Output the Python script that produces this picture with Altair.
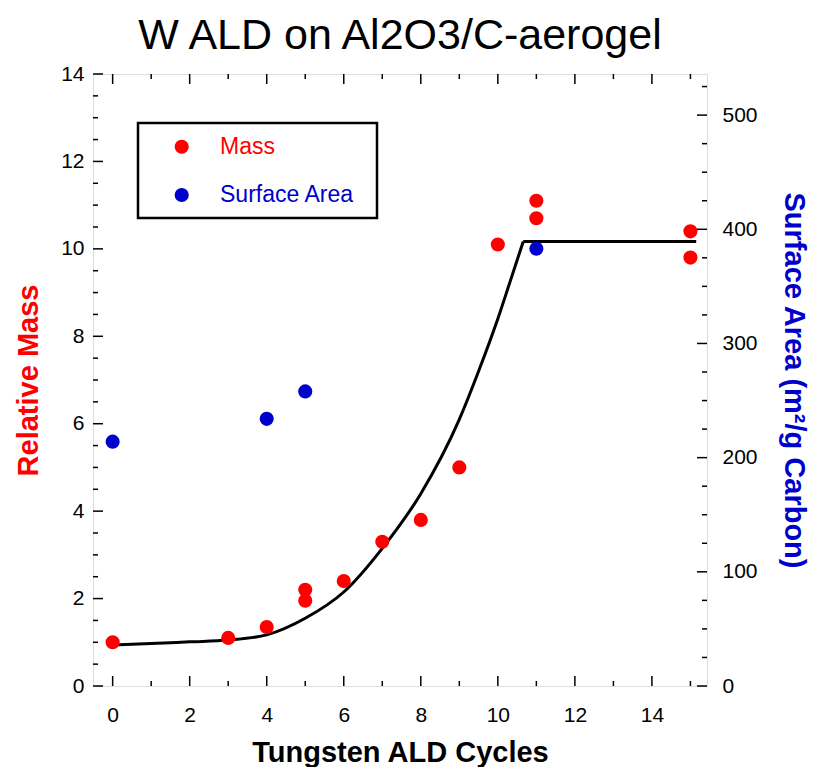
import altair as alt
import pandas as pd

# ---- data ----
mass_cycles = [0, 3, 4, 5, 5, 6, 7, 8, 9, 10, 11, 11, 15, 15]
mass_values = [1.0, 1.1, 1.35, 1.95, 2.2, 2.4, 3.3, 3.8, 5.0, 10.1, 10.7, 11.1, 10.4, 9.8]

area_cycles = [0, 4, 5, 11]
area_values = [214, 234, 258, 383]

# fitted curve (rising part) and its plateau
fit_cycles = [0, 1, 2, 3, 4, 5, 6, 7, 8, 9, 9.5, 10, 10.3, 10.66]
fit_values = [0.94, 0.97, 1.01, 1.05, 1.17, 1.55, 2.15, 3.15, 4.4, 6.1, 7.2, 8.4, 9.2, 10.17]
plateau_cycles = [10.66, 15.15]
plateau_values = [10.17, 10.17]

x_major = [0, 2, 4, 6, 8, 10, 12, 14]
x_minor = [1, 3, 5, 7, 9, 11, 13, 15]
mass_major = [0, 2, 4, 6, 8, 10, 12, 14]
mass_minor = [v / 2 for v in range(1, 28) if v % 4 != 0]
area_major = [0, 100, 200, 300, 400, 500]
area_minor = [v for v in range(25, 536, 25) if v % 100 != 0]

legend_labels = ["Mass", "Surface Area"]
legend_colors = ["#FF0000", "#0000CC"]

TITLE = "W ALD on Al2O3/C-aerogel"
X_TITLE = "Tungsten ALD Cycles"
Y_LEFT_TITLE = "Relative Mass"
Y_RIGHT_TITLE = "Surface Area (m\u00b2/g Carbon)"

# ---- layout ----
W, H = 614, 612
FONT = "Liberation Sans"
RED = "#FF0000"
BLUE = "#0000CC"
MAJ, MIN = 10, 5

XS = alt.Scale(domain=[-0.51, 15.43], nice=False, zero=False)
YM = alt.Scale(domain=[0, 14], nice=False, zero=True)
YA = alt.Scale(domain=[0, 536], nice=False, zero=True)

X_AXIS = alt.Axis(
    values=x_major, ticks=False, domain=False, grid=False,
    labelFont=FONT, labelFontSize=21, labelColor="black", labelPadding=18,
    title=X_TITLE, titleFont=FONT, titleFontSize=29, titleFontWeight="bold",
    titleColor="black", titleBaseline="alphabetic", titleY=75,
)

mass_df = pd.DataFrame({"cycles": mass_cycles, "mass": mass_values})
area_df = pd.DataFrame({"cycles": area_cycles, "area": area_values})
fit_df = pd.DataFrame({"cycles": fit_cycles, "mass": fit_values})
plateau_df = pd.DataFrame({"cycles": plateau_cycles, "mass": plateau_values})

fit_line = alt.Chart(fit_df).mark_line(
    color="black", strokeWidth=3, interpolate="monotone").encode(
    x=alt.X("cycles:Q", scale=XS, axis=X_AXIS),
    y=alt.Y("mass:Q", scale=YM, axis=None),
    order="cycles:Q",
)
plateau_line = alt.Chart(plateau_df).mark_line(color="black", strokeWidth=3).encode(
    x=alt.X("cycles:Q", scale=XS, axis=X_AXIS),
    y=alt.Y("mass:Q", scale=YM, axis=None),
    order="cycles:Q",
)

mass_pts = alt.Chart(mass_df).mark_circle(color=RED, size=200, opacity=1).encode(
    x=alt.X("cycles:Q", scale=XS, axis=X_AXIS),
    y=alt.Y("mass:Q", scale=YM, axis=alt.Axis(
        orient="left", values=mass_major, ticks=False, domain=False, grid=False,
        labelFont=FONT, labelFontSize=21, labelColor="black", labelPadding=9,
        title=Y_LEFT_TITLE, titleFont=FONT, titleFontSize=29, titleFontWeight="bold",
        titleColor=RED, titleBaseline="middle", titleX=-65,
    )),
)

area_pts = alt.Chart(area_df).mark_circle(color=BLUE, size=200, opacity=1).encode(
    x=alt.X("cycles:Q", scale=XS, axis=X_AXIS),
    y=alt.Y("area:Q", scale=YA, axis=alt.Axis(
        orient="right", values=area_major, ticks=False, domain=False, grid=False,
        labelFont=FONT, labelFontSize=21, labelColor="black", labelPadding=15,
        title=Y_RIGHT_TITLE, titleFont=FONT, titleFontSize=29, titleFontWeight="bold",
        titleColor=BLUE, titleBaseline="middle", titleX=86,
    )),
)


def xticks(vals, length, top):
    df = pd.DataFrame({"v": vals})
    if top:
        ys = dict(y=alt.value(0), y2=alt.value(length))
    else:
        ys = dict(y=alt.value(H), y2=alt.value(H - length))
    return alt.Chart(df).mark_rule(color="black", strokeWidth=1.5).encode(
        x=alt.X("v:Q", scale=XS, axis=X_AXIS), **ys)


def yticks(vals, length, scale, right):
    df = pd.DataFrame({"v": vals})
    if right:
        xs = dict(x=alt.value(W), x2=alt.value(W - length))
    else:
        xs = dict(x=alt.value(0), x2=alt.value(length))
    return alt.Chart(df).mark_rule(color="black", strokeWidth=1.5).encode(
        y=alt.Y("v:Q", scale=scale, axis=None), **xs)


tick_layers = [
    xticks(x_major, MAJ, False), xticks(x_minor, MIN, False),
    xticks(x_major, MAJ, True), xticks(x_minor, MIN, True),
    yticks(mass_major, MAJ, YM, False), yticks(mass_minor, MIN, YM, False),
    yticks(area_major, MAJ, YA, True), yticks(area_minor, MIN, YA, True),
]

# ---- hand-drawn legend box ----
one = pd.DataFrame({"a": [0]})
legend_box = alt.Chart(one).mark_rect(fill="white", stroke="black", strokeWidth=2.5).encode(
    x=alt.value(45), x2=alt.value(284), y=alt.value(49), y2=alt.value(144)
)
legend_layers = []
for i, (lab, col) in enumerate(zip(legend_labels, legend_colors)):
    yy = 72.7 + i * 48.3
    ldf = pd.DataFrame({"label": [lab]})
    legend_layers.append(
        alt.Chart(ldf).mark_circle(color=col, size=200, opacity=1).encode(
            x=alt.value(88.7), y=alt.value(yy)))
    legend_layers.append(
        alt.Chart(ldf).mark_text(color=col, font=FONT, fontSize=23, align="left",
                                 baseline="middle").encode(
            x=alt.value(127), y=alt.value(yy), text="label:N"))

chart = alt.layer(
    legend_box, *legend_layers, fit_line, plateau_line, mass_pts, area_pts, *tick_layers
).resolve_scale(y="independent").properties(
    width=W, height=H,
    title=alt.TitleParams(TITLE, font=FONT, fontSize=43, fontWeight="normal",
                          color="black", anchor="middle", offset=5),
    autosize=alt.AutoSizeParams(type="none"),
    padding={"left": 85, "top": 66, "right": 102, "bottom": 81},
).configure_view(stroke="black", strokeWidth=2.5).configure(background="white")

chart.save("out.html", embed_options={"renderer": "svg", "actions": False})
